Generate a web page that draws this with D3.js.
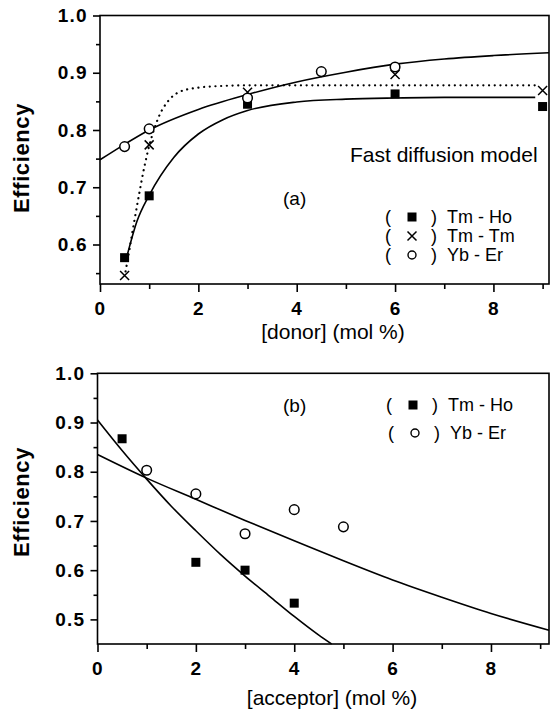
<!DOCTYPE html>
<html><head><meta charset="utf-8">
<script src="https://cdn.jsdelivr.net/npm/d3@7"></script>
<style>
body{margin:0;background:#fff;}
svg{display:block;font-family:"Liberation Sans",Arial,Helvetica,sans-serif;}
</style></head>
<body><svg id="c" width="550" height="717"></svg>
<script>
// ---- Panel (a) data: efficiency vs donor concentration ----
const aTmHoX = [0.5, 1, 3, 6, 9];
const aTmHoY = [0.577, 0.685, 0.845, 0.863, 0.841];
const aTmTmX = [0.5, 1, 3, 6, 9];
const aTmTmY = [0.546, 0.774, 0.866, 0.897, 0.869];
const aYbErX = [0.5, 1, 3, 4.5, 6];
const aYbErY = [0.771, 0.802, 0.856, 0.902, 0.910];
// fitted model curves
const aFitTmHoX = [0.55, 0.75, 1, 1.5, 2, 2.5, 3, 4, 5, 6, 7, 8, 8.85];
const aFitTmHoY = [0.580, 0.640, 0.686, 0.752, 0.793, 0.818, 0.834, 0.849, 0.854, 0.856, 0.857, 0.857, 0.857];
const aFitTmTmX = [0.52, 0.6, 0.7, 0.8, 0.9, 1, 1.2, 1.4, 1.6, 2, 2.5, 3, 5, 7, 8.9];
const aFitTmTmY = [0.553, 0.592, 0.642, 0.690, 0.735, 0.772, 0.824, 0.852, 0.866, 0.874, 0.877, 0.878, 0.878, 0.878, 0.878];
const aFitYbErX = [0, 0.5, 1, 2, 3, 4, 5, 6, 7, 8, 9.13];
const aFitYbErY = [0.748, 0.775, 0.800, 0.836, 0.862, 0.884, 0.901, 0.915, 0.924, 0.930, 0.935];

// ---- Panel (b) data: efficiency vs acceptor concentration ----
const bTmHoX = [0.5, 2, 3, 4];
const bTmHoY = [0.867, 0.616, 0.600, 0.533];
const bYbErX = [1, 2, 3, 4, 5];
const bYbErY = [0.803, 0.755, 0.674, 0.723, 0.688];
const bFitTmHoX = [0, 0.5, 1, 1.5, 2, 2.5, 3, 3.5, 4, 4.5, 4.76];
const bFitTmHoY = [0.905, 0.843, 0.785, 0.730, 0.680, 0.632, 0.588, 0.547, 0.506, 0.468, 0.45];
const bFitYbErX = [0, 1, 2, 3, 4, 5, 6, 7, 8, 9.18];
const bFitYbErY = [0.835, 0.787, 0.744, 0.701, 0.660, 0.619, 0.580, 0.545, 0.512, 0.478];

const xMajor = [0, 2, 4, 6, 8];
const xMinor = [1, 3, 5, 7, 9];
const aYMajor = [0.6, 0.7, 0.8, 0.9, 1.0];
const aYMinor = [0.55, 0.65, 0.75, 0.85, 0.95];
const bYMajor = [0.5, 0.6, 0.7, 0.8, 0.9, 1.0];
const bYMinor = [0.55, 0.65, 0.75, 0.85, 0.95];

const svg = d3.select("#c");
const zip = (xs, ys) => xs.map((x, i) => [x, ys[i]]);

function panel(cfg) {
  const x = d3.scaleLinear().domain(cfg.xDom).range([cfg.left, cfg.right]);
  const y = d3.scaleLinear().domain(cfg.yDom).range([cfg.bottom, cfg.top]);
  const g = svg.append("g");
  g.append("rect").attr("x", cfg.left).attr("y", cfg.top)
    .attr("width", cfg.right - cfg.left).attr("height", cfg.bottom - cfg.top)
    .attr("fill", "none").attr("stroke", "#000").attr("stroke-width", 1.6);
  const fmt = d3.format(".1f");
  g.append("g").attr("transform", `translate(${cfg.left},0)`)
    .call(d3.axisLeft(y).tickValues(cfg.yMajor).tickSize(7).tickPadding(5).tickFormat(fmt));
  g.append("g").attr("transform", `translate(${cfg.left},0)`)
    .call(d3.axisLeft(y).tickValues(cfg.yMinor).tickSize(4).tickFormat(""));
  g.append("g").attr("transform", `translate(0,${cfg.bottom})`)
    .call(d3.axisBottom(x).tickValues(xMajor).tickSize(8).tickPadding(10).tickFormat(d3.format("d")));
  g.append("g").attr("transform", `translate(0,${cfg.bottom})`)
    .call(d3.axisBottom(x).tickValues(xMinor).tickSize(5).tickFormat(""));
  g.selectAll(".domain").remove();
  g.selectAll(".tick line").attr("stroke", "#000").attr("stroke-width", 1.6);
  g.selectAll(".tick text").attr("fill", "#000").style("font-size", "19px")
    .style("font-weight", "bold").style("letter-spacing", "1.3px");
  g.append("text").attr("transform", `translate(${cfg.ylabX},${cfg.ylabY}) rotate(-90)`)
    .attr("text-anchor", "middle").style("font-size", "22px").style("font-weight", "bold")
    .style("letter-spacing", "0.6px").text("Efficiency");
  g.append("text").attr("x", cfg.xlabX).attr("y", cfg.xlabY).attr("text-anchor", "middle")
    .style("font-size", "21px").text(cfg.xlab);
  return {x, y, g};
}

function drawLine(p, xs, ys, dotted) {
  const line = d3.line().x(d => p.x(d[0])).y(d => p.y(d[1])).curve(d3.curveMonotoneX);
  const path = p.g.append("path").datum(zip(xs, ys)).attr("d", line)
    .attr("fill", "none").attr("stroke", "#000");
  if (dotted) path.attr("stroke-width", 2.2).attr("stroke-dasharray", "0.1,5.6").attr("stroke-linecap", "round");
  else path.attr("stroke-width", 1.6);
}
function squares(g, pts) {
  g.selectAll(null).data(pts).enter().append("rect")
    .attr("x", d => d[0] - 4.5).attr("y", d => d[1] - 4.5)
    .attr("width", 9).attr("height", 9).attr("fill", "#000");
}
function circles(g, pts) {
  g.selectAll(null).data(pts).enter().append("circle")
    .attr("cx", d => d[0]).attr("cy", d => d[1]).attr("r", 4.8)
    .attr("fill", "#fff").attr("stroke", "#000").attr("stroke-width", 1.5);
}
function crosses(g, pts) {
  const s = 4.5;
  g.selectAll(null).data(pts).enter().append("path")
    .attr("d", d => `M${d[0]-s},${d[1]-s}L${d[0]+s},${d[1]+s}M${d[0]-s},${d[1]+s}L${d[0]+s},${d[1]-s}`)
    .attr("stroke", "#000").attr("stroke-width", 1.5).attr("fill", "none");
}
function pix(p, xs, ys) { return xs.map((v, i) => [p.x(v), p.y(ys[i])]); }
function legendRow(g, x, y, kind, label) {
  g.append("text").attr("x", x).attr("y", y).style("font-size", "18px").text("(");
  if (kind === "sq") squares(g, [[x + 27, y - 6]]);
  if (kind === "x") crosses(g, [[x + 27, y - 6]]);
  if (kind === "o") g.append("circle").attr("cx", x + 27).attr("cy", y - 6).attr("r", 4)
      .attr("fill", "#fff").attr("stroke", "#000").attr("stroke-width", 1.4);
  g.append("text").attr("x", x + 46).attr("y", y).style("font-size", "18px").text(")");
  g.append("text").attr("x", x + 62).attr("y", y).style("font-size", "18px").text(label);
}

// ---- Panel (a) ----
const A = panel({xDom: [0, 9.13], yDom: [0.531, 1.0], left: 100, right: 549, top: 15.5, bottom: 284,
  yMajor: aYMajor, yMinor: aYMinor, ylabX: 29, ylabY: 158, xlabX: 333, xlabY: 339, xlab: "[donor] (mol %)"});
drawLine(A, aFitYbErX, aFitYbErY, false);
drawLine(A, aFitTmHoX, aFitTmHoY, false);
drawLine(A, aFitTmTmX, aFitTmTmY, true);
squares(A.g, pix(A, aTmHoX, aTmHoY));
crosses(A.g, pix(A, aTmTmX, aTmTmY));
circles(A.g, pix(A, aYbErX, aYbErY));
A.g.append("text").attr("x", 350).attr("y", 162).style("font-size", "21px").text("Fast diffusion model");
A.g.append("text").attr("x", 283).attr("y", 205).style("font-size", "19px").text("(a)");
legendRow(A.g, 385, 223, "sq", "Tm - Ho");
legendRow(A.g, 385, 242, "x", "Tm - Tm");
legendRow(A.g, 385, 261, "o", "Yb -  Er");

// ---- Panel (b) ----
const B = panel({xDom: [0, 9.18], yDom: [0.45, 1.0], left: 97.5, right: 549, top: 373.3, bottom: 644,
  yMajor: bYMajor, yMinor: bYMinor, ylabX: 29, ylabY: 502, xlabX: 332, xlabY: 705, xlab: "[acceptor] (mol %)"});
drawLine(B, bFitTmHoX, bFitTmHoY, false);
drawLine(B, bFitYbErX, bFitYbErY, false);
squares(B.g, pix(B, bTmHoX, bTmHoY));
circles(B.g, pix(B, bYbErX, bYbErY));
B.g.append("text").attr("x", 283).attr("y", 412).style("font-size", "19px").text("(b)");
legendRow(B.g, 386, 411, "sq", "Tm - Ho");
legendRow(B.g, 388, 439, "o", "Yb -  Er");
</script>
</body></html>
